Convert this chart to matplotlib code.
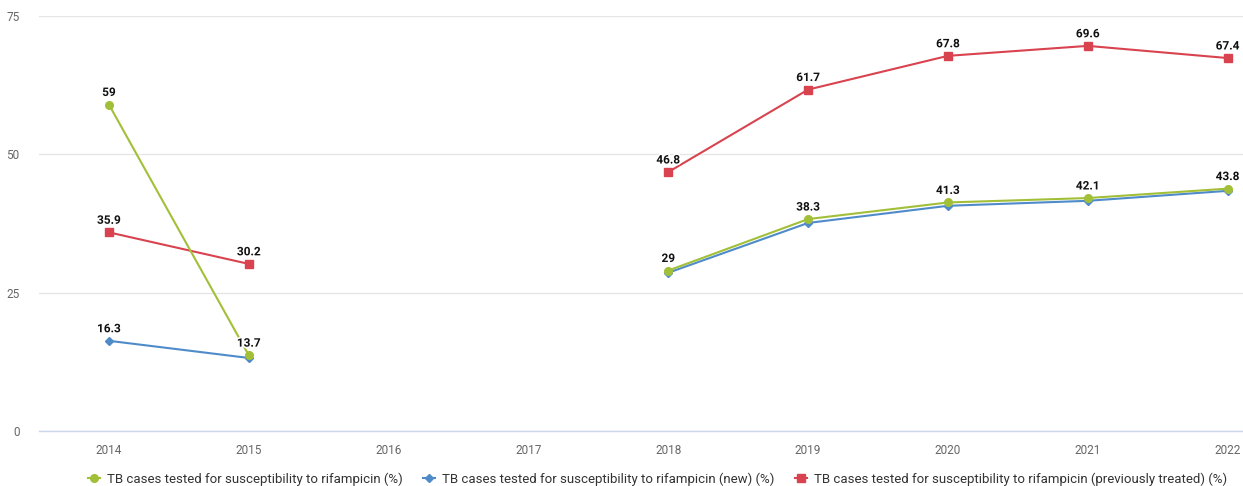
import numpy as np
import matplotlib
matplotlib.use("Agg")
import matplotlib.pyplot as plt
from matplotlib.lines import Line2D
import matplotlib.patheffects as pe

plt.rcParams['font.family'] = ['Roboto', 'DejaVu Sans']

years = [2014, 2015, 2016, 2017, 2018, 2019, 2020, 2021, 2022]
tested_all = [59, 13.7, None, None, 29, 38.3, 41.3, 42.1, 43.8]
tested_new = [16.3, 13.2, None, None, 28.6, 37.6, 40.7, 41.6, 43.4]
tested_prev = [35.9, 30.2, None, None, 46.8, 61.7, 67.8, 69.6, 67.4]
new_labelled = [True, False, False, False, False, False, False, False, False]

names = [
    "TB cases tested for susceptibility to rifampicin (%)",
    "TB cases tested for susceptibility to rifampicin (new) (%)",
    "TB cases tested for susceptibility to rifampicin (previously treated) (%)",
]
colors = ["#a2bf38", "#4f8bc9", "#d8434f"]
markers = ["o", "D", "s"]
msizes = [5.5, 4.2, 5.5]

W, H = 1243, 486
fig = plt.figure(figsize=(W / 100, H / 100), dpi=100)
ax = fig.add_axes([39 / W, 1 - 431 / H, (1243 - 39) / W, (431 - 16) / H])

def arr(v):
    return np.array([np.nan if x is None else x for x in v], dtype=float)

x = np.array(years, dtype=float)
series = [arr(tested_all), arr(tested_new), arr(tested_prev)]

# draw in reverse so the first series sits on top
for i in [2, 1, 0]:
    ax.plot(x, series[i], color=colors[i], lw=1.5, marker=markers[i],
            ms=msizes[i], mec=colors[i], zorder=3 + (2 - i), clip_on=False)

outline = [pe.withStroke(linewidth=2.5, foreground="white")]

def label(xv, yv):
    ax.annotate(f"{yv:g}", (xv, yv), xytext=(0, 4), textcoords="offset points",
                ha="center", va="bottom", fontsize=8.5, fontweight="bold",
                color="#111111", path_effects=outline, zorder=10,
                annotation_clip=False)

for xv, yv in zip(x, series[0]):
    if not np.isnan(yv):
        label(xv, yv)
for xv, yv in zip(x, series[2]):
    if not np.isnan(yv):
        label(xv, yv)
for xv, yv, show in zip(x, series[1], new_labelled):
    if show and not np.isnan(yv):
        label(xv, yv)

ax.set_xlim(2013.5, 2022.11)
ax.set_ylim(0, 75)
ax.set_yticks([0, 25, 50, 75])
ax.set_xticks(years)
ax.set_xticklabels([str(y) for y in years])
ax.grid(axis="y", color="#e6e6e6", lw=1)
ax.set_axisbelow(True)
for s in ["top", "right", "left"]:
    ax.spines[s].set_visible(False)
ax.spines["bottom"].set_color("#ccd6eb")
ax.spines["bottom"].set_linewidth(1)
ax.tick_params(axis="both", length=0, labelsize=8.5, labelcolor="#666666")
ax.tick_params(axis="y", pad=14)
ax.tick_params(axis="x", pad=9)

handles = [Line2D([0], [0], color=colors[i], lw=1.5, marker=markers[i],
                  ms=msizes[i], mec=colors[i]) for i in range(3)]
fig.legend(handles, names, loc="center", bbox_to_anchor=(0.529, 1 - 479 / H),
           ncol=3, frameon=False, fontsize=9.5, handlelength=0.9,
           handletextpad=0.5, columnspacing=1.6, labelcolor="#333333")

fig.savefig("out.png", dpi=100, facecolor="white")
